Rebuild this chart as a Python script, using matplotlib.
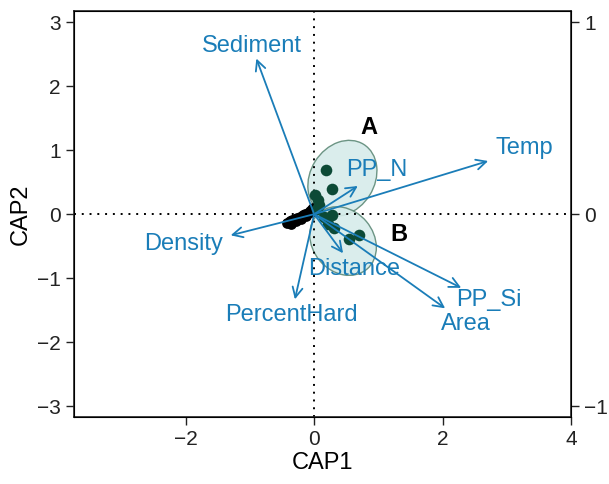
import numpy as np
import matplotlib
matplotlib.use("Agg")
import matplotlib.pyplot as plt
from matplotlib.patches import Ellipse

plt.rcParams["font.family"] = ["Liberation Sans", "DejaVu Sans"]

# Vectores de variables (CAP1, CAP2)
var_names = ["Sediment", "Temp", "PP_N", "Density", "Distance", "PercentHard", "PP_Si", "Area"]
var_x = [-0.90, 2.71, 0.68, -1.30, 0.45, -0.30, 2.29, 2.04]
var_y = [2.43, 0.83, 0.44, -0.33, -0.61, -1.33, -1.15, -1.47]
label_x = [-0.97, 3.27, 0.98, -2.03, 0.63, -0.35, 2.72, 2.36]
label_y = [2.63, 1.04, 0.69, -0.47, -0.86, -1.58, -1.34, -1.72]

# Sitios
black_x = [-0.42, -0.38, -0.34, -0.30, -0.26, -0.22, -0.18, -0.14, -0.10, -0.07, -0.04, -0.02, -0.36, -0.28, -0.20, -0.12, -0.05]
black_y = [-0.14, -0.11, -0.09, -0.07, -0.06, -0.04, -0.02, 0.00, 0.02, 0.05, 0.08, 0.10, -0.15, -0.11, -0.07, -0.03, 0.03]
green_x = [0.18, 0.28, 0.02, 0.06, 0.08, 0.04, 0.28, 0.31, 0.22, 0.54, 0.70, 0.16]
green_y = [0.69, 0.40, 0.30, 0.22, 0.14, 0.08, -0.02, -0.22, -0.15, -0.38, -0.33, -0.04]

# Elipses de grupo: centro, ancho, alto, angulo
groups = ["A", "B"]
ell_cx = [0.44, 0.45]
ell_cy = [0.56, -0.42]
ell_w = [1.25, 1.15]
ell_h = [1.00, 0.95]
ell_ang = [58, -50]
group_lx = [0.85, 1.32]
group_ly = [1.36, -0.32]

blue = "#1a7db8"

fig = plt.figure(figsize=(6.09, 4.84), dpi=100)
ax = fig.add_axes([0.1215, 0.138, 0.8161, 0.839])

for cx, cy, w, h, a in zip(ell_cx, ell_cy, ell_w, ell_h, ell_ang):
    ax.add_patch(Ellipse((cx, cy), w, h, angle=a, facecolor="#d6ecea",
                         edgecolor="#5e8a78", lw=1.0, alpha=0.9, zorder=1))

ax.axhline(0, color="black", ls=(0, (1, 3)), lw=1.4, zorder=2)
ax.axvline(0, color="black", ls=(0, (1, 3)), lw=1.4, zorder=2)

ax.scatter(black_x, black_y, s=60, color="black", zorder=3, linewidths=0)
ax.scatter(green_x, green_y, s=70, color="#0c4a36", zorder=3, linewidths=0)

for n, x, y, lx, ly in zip(var_names, var_x, var_y, label_x, label_y):
    ax.annotate("", xy=(x, y), xytext=(0, 0),
                arrowprops=dict(arrowstyle="->", color=blue, lw=1.3, mutation_scale=18,
                                shrinkA=0, shrinkB=0), zorder=4)
    ax.text(lx, ly, n, color=blue, fontsize=17, ha="center", va="center", zorder=5)

for g, x, y in zip(groups, group_lx, group_ly):
    ax.text(x, y, g, fontsize=17, fontweight="bold", ha="center", va="center", color="black")

ax.set_xlim(-3.74, 4.0)
ax.set_ylim(-3.17, 3.17)
ax.set_xticks([-2, 0, 2, 4])
ax.set_yticks([-3, -2, -1, 0, 1, 2, 3])
ax.set_xticklabels(["\u22122", "0", "2", "4"])
ax.set_yticklabels(["\u22123", "\u22122", "\u22121", "0", "1", "2", "3"])
ax.tick_params(direction="out", length=6, width=1, labelsize=15, colors="#222222")
ax.set_xlabel("CAP1", fontsize=17, labelpad=2)
ax.set_ylabel("CAP2", fontsize=17, labelpad=4)
for s in ax.spines.values():
    s.set_linewidth(1.2)
    s.set_color("#222222")

ax2 = ax.twinx()
ax2.set_ylim(-3.17 / 3, 3.17 / 3)
ax2.set_yticks([-1, 0, 1])
ax2.set_yticklabels(["\u22121", "0", "1"])
ax2.tick_params(direction="out", length=6, width=1, labelsize=15, colors="#222222")

fig.savefig("out.png", dpi=100)
